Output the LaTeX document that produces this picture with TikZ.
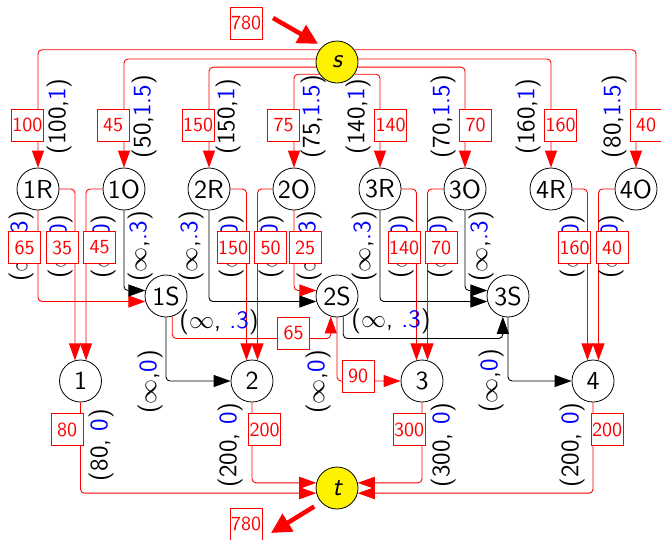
\RequirePackage{fix-cm}
\documentclass[tikz,border=0pt]{standalone}
\usepackage{fontspec}
\setsansfont{lmsans10-regular}[Extension=.otf,ItalicFont=lmsans10-oblique]
\usetikzlibrary{arrows.meta,calc}
\definecolor{myred}{RGB}{255,0,0}
\definecolor{myblue}{RGB}{0,0,255}
\newcommand\B[1]{\textcolor{myblue}{#1}}
\newcommand\capf{\fontsize{25}{28}\selectfont\sffamily}
\newcommand\nodef{\fontsize{26}{29}\selectfont\sffamily}
\newcommand\flowf{\fontsize{20}{22}\selectfont\sffamily}
\pgfdeclarelayer{bg}
\pgfdeclarelayer{mid}
\pgfsetlayers{bg,mid,main}
\begin{document}
\begin{tikzpicture}[x=1pt,y=-1pt,
  vx/.style={circle,draw,line width=0.8pt,fill=white,minimum size=42pt,inner sep=0pt,font=\nodef},
  term/.style={vx,fill=yellow},
  redE/.style={draw=myred,line width=0.9pt,rounded corners=4pt,-{Triangle[length=17pt,width=12pt]}},
  blkE/.style={draw=black,line width=0.9pt,rounded corners=4pt,-{Triangle[length=17pt,width=12pt]}},
  bigE/.style={draw=myred,line width=4.5pt,-{Triangle[length=20pt,width=20pt]}},
  flow/.style={draw=myred,fill=white,text=myred,line width=0.8pt,minimum size=32pt,inner sep=0pt,font=\flowf},
  capr/.style={rotate=90,inner sep=0pt,font=\capf},
  caph/.style={inner sep=0pt,font=\capf}]
\useasboundingbox (0,0) rectangle (661,539);

% nodes
\node[term] (s) at (337,62) {\itshape s};
\node[term] (t) at (337,488) {\itshape t};
\node[vx] (1R) at (38,189) {1R};
\node[vx] (1O) at (124,189) {1O};
\node[vx] (2R) at (209,189) {2R};
\node[vx] (2O) at (294,189) {2O};
\node[vx] (3R) at (380,189) {3R};
\node[vx] (3O) at (465,189) {3O};
\node[vx] (4R) at (551,189) {4R};
\node[vx] (4O) at (636,189) {4O};
\node[vx] (1S) at (166,296) {1S};
\node[vx] (2S) at (337,296) {2S};
\node[vx] (3S) at (508,296) {3S};
\node[vx] (n1) at (80.5,381) {1};
\node[vx] (n2) at (252,381) {2};
\node[vx] (n3) at (422,381) {3};
\node[vx] (n4) at (593,381) {4};
\coordinate (inA) at (273,18);
\coordinate (outA) at (271,533);

\begin{pgfonlayer}{bg}
% source edges
\draw[redE] (s.145) -| (1R);
\draw[redE] (s.172) -| (1O);
\draw[redE] (s.194) -| (2R);
\draw[redE] (s.215) -| (2O);
\draw[redE] (s.325) -| (3R);
\draw[redE] (s.346) -| (3O);
\draw[redE] (s.8) -| (4R);
\draw[redE] (s.35) -| (4O);
% row 1 edges
\draw[redE] (1R.south) |- (1S.195);
\draw[blkE] (1O.south) |- (1S.165);
\draw[redE] (1R.east) -| (n1.105);
\draw[redE] (1O.west) -| (n1.75);
\draw[blkE] (2R.south) |- (2S.195);
\draw[redE] (2O.south) |- (2S.165);
\draw[redE] (2R.east) -| (n2.105);
\draw[redE] (2O.west) -| (n2.75);
\draw[blkE] (3R.south) |- (3S.195);
\draw[blkE] (3O.south) |- (3S.165);
\draw[redE] (3R.east) -| (n3.105);
\draw[redE] (3O.west) -| (n3.75);
\draw[redE] (4R.east) -| (n4.105);
\draw[redE] (4O.west) -| (n4.75);
% row 2 edges
\draw[blkE] (1S.south) |- (n2.west);
\draw[redE] (1S.287) -- ++(0,22) -| (2S.253);
\draw[blkE] (2S.287) -- ++(0,22) -| (3S.256);
\draw[redE] (2S.south) |- (n3.west);
\draw[blkE] (3S.south) |- (n4.west);
% sink edges
\draw[redE] (n1.south) |- (t.194);
\draw[redE] (n2.south) |- (t.166);
\draw[redE] (n3.south) |- (t.14);
\draw[redE] (n4.south) |- (t.346);
% supply / demand
\draw[bigE, shorten >=5pt] (inA) -- (s.133);
\draw[bigE, shorten <=8pt] (t.222) -- (outA);

% capacity labels
\node[capr] (c1) at (59,116.5) {(100,\B{1})};
\node[capr] (c2) at (144,116.5) {(50,\B{1.5})};
\node[capr] (c3) at (228,116.5) {(150,\B{1})};
\node[capr] (c4) at (313,116.5) {(75,\B{1.5})};
\node[capr] (c5) at (358,116.5) {(140,\B{1})};
\node[capr] (c6) at (443,116.5) {(70,\B{1.5})};
\node[capr] (c7) at (528,116.5) {(160,\B{1})};
\node[capr] (c8) at (614,116.5) {(80,\B{1.5})};

\node[capr] (d1) at (21,246.5) {($\infty$,\B{.3})};
\node[capr] (d2) at (60,246.5) {($\infty$,\B{0})};
\node[capr] (d3) at (103,246.5) {($\infty$,\B{0})};
\node[capr] (d4) at (140,246.5) {($\infty$,\B{.3})};
\node[capr] (d5) at (191,246.5) {($\infty$,\B{.3})};
\node[capr] (d6) at (231,246.5) {($\infty$,\B{0})};
\node[capr] (d7) at (271,246.5) {($\infty$,\B{0})};
\node[capr] (d8) at (309,246.5) {($\infty$,\B{.3})};
\node[capr] (d9) at (364,246.5) {($\infty$,\B{.3})};
\node[capr] (d10) at (401,246.5) {($\infty$,\B{0})};
\node[capr] (d11) at (440,246.5) {($\infty$,\B{0})};
\node[capr] (d12) at (481,246.5) {($\infty$,\B{.3})};
\node[capr] (d13) at (572,246.5) {($\infty$,\B{0})};
\node[capr] (d14) at (611,246.5) {($\infty$,\B{0})};

\node[caph] (e1) at (219,322) {($\infty$, \B{.3})};
\node[caph] (e2) at (391,321) {($\infty$, \B{.3})};
\node[capr] (e3) at (150,382) {($\infty$,\B{0})};
\node[capr] (e4) at (318,382) {($\infty$,\B{0})};
\node[capr] (e5) at (491,381) {($\infty$,\B{0})};

\node[capr] (f1) at (101,445) {(80, \B{0})};
\node[capr] (f2) at (230,445) {(200, \B{0})};
\node[capr] (f3) at (443,445) {(300, \B{0})};
\node[capr] (f4) at (572,445) {(200, \B{0})};
\end{pgfonlayer}

\begin{pgfonlayer}{mid}
\node[flow] (in780) at (246,23) {780};
\node[flow] (out780) at (246,524) {780};
\node[flow] (g1) at (27.5,125) {100};
\node[flow] (g2) at (113,125) {45};
\node[flow] (g3) at (198,125) {150};
\node[flow] (g4) at (283.5,125) {75};
\node[flow] (g5) at (390.5,125) {140};
\node[flow] (g6) at (475.5,125) {70};
\node[flow] (g7) at (560.5,125) {160};
\node[flow] (g8) at (646,125) {40};

\node[flow] (h1) at (24.5,247.5) {65};
\node[flow] (h2) at (62,247.5) {35};
\node[flow] (h3) at (99.5,247.5) {45};
\node[flow] (h4) at (233,247.5) {150};
\node[flow] (h5) at (270.5,247.5) {50};
\node[flow] (h6) at (305,247.5) {25};
\node[flow] (h7) at (404,247.5) {140};
\node[flow] (h8) at (441,247.5) {70};
\node[flow] (h9) at (574.5,247.5) {160};
\node[flow] (h10) at (612,247.5) {40};

\node[flow] (k1) at (293.5,333) {65};
\node[flow] (k2) at (358,376) {90};

\node[flow] (m1) at (67,429.5) {80};
\node[flow] (m2) at (264.5,429.5) {200};
\node[flow] (m3) at (409,429.5) {300};
\node[flow] (m4) at (607,429.5) {200};
\end{pgfonlayer}
\end{tikzpicture}
\end{document}
